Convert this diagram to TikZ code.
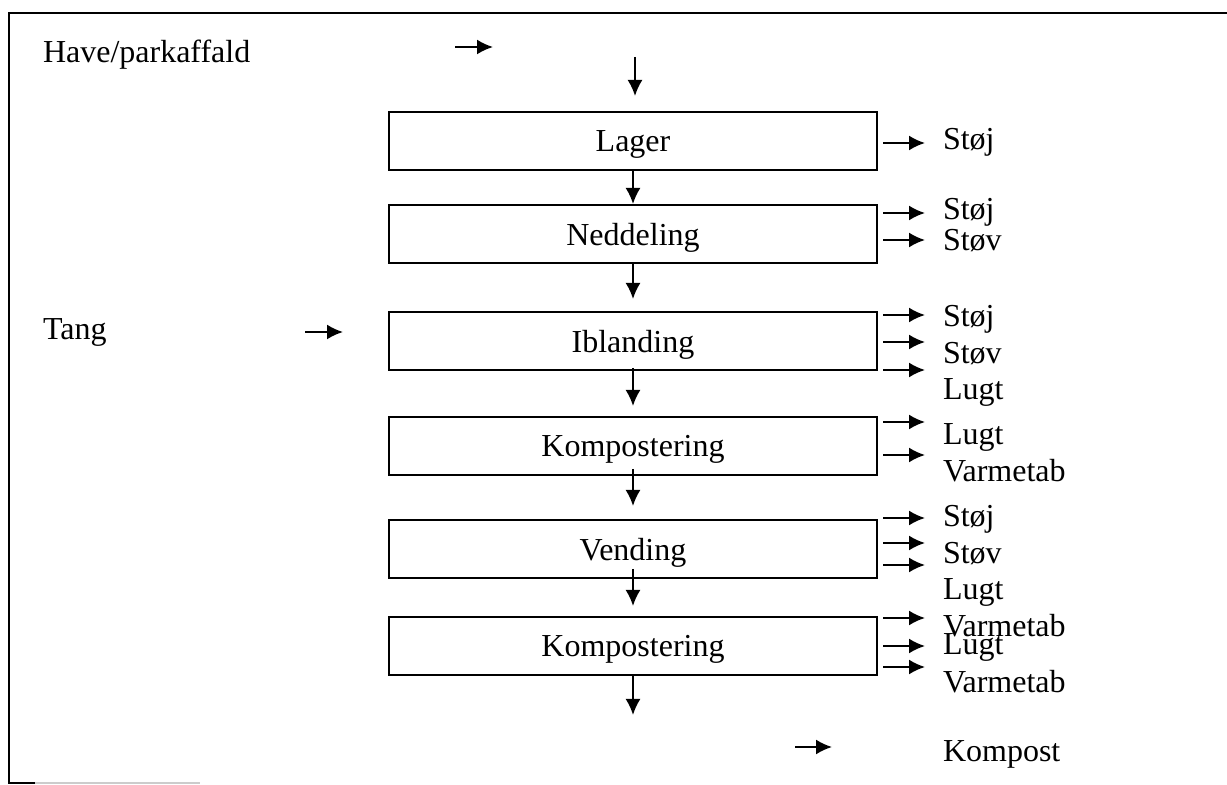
\documentclass[tikz,border=0pt]{standalone}
\usepackage{fontspec}
\setmainfont{Liberation Serif}
\usetikzlibrary{arrows.meta}

\begin{document}
\begin{tikzpicture}[x=0.5pt, y=-0.5pt, line width=1pt,
    font=\fontsize{16}{19}\selectfont,
    proc/.style={draw, minimum width=244pt, minimum height=29pt, inner sep=0pt, text depth=0pt},
    flow/.style={-{Latex[length=8pt,width=7.5pt]}},
    lbl/.style={anchor=base west, inner sep=0pt}]
    \useasboundingbox (0,0) rectangle (1227,785);

    % ramme
    \draw (1227,13) -- (9,13) -- (9,783) -- (35,783);
    \draw[gray!40] (35,783) -- (200,783);

    % input
    \node[lbl] (have) at (42,63) {Have/parkaffald};
    \node[lbl] (tang) at (42,340) {Tang};
    \coordinate (haveA) at (455,47);
    \coordinate (haveB) at (493,47);
    \coordinate (tangA) at (305,332);
    \coordinate (tangB) at (343,332);
    \draw[flow] (haveA) -- (haveB);
    \draw[flow] (tangA) -- (tangB);

    % processer
    \node[proc] (lager) at (633,141) {Lager};
    \node[proc] (nedd)  at (633,234) {Neddeling};
    \node[proc] (ibl)   at (633,341) {Iblanding};
    \node[proc] (komp)  at (633,446) {Kompostering};
    \node[proc] (vend)  at (633,549) {Vending};
    \node[proc] (komp2) at (633,646) {Kompostering};

    \coordinate (intop) at (635,57);
    \coordinate (ud) at (633,715);
    \draw[flow] (intop) -- ([yshift=7.5pt]intop |- lager.north);
    \draw[flow] (lager) -- (nedd);
    \draw[flow] (nedd) -- ([yshift=6pt]ibl.north);
    \draw[flow] ([yshift=1.5pt]ibl.south) -- ([yshift=5pt]komp.north);
    \draw[flow] ([yshift=3.5pt]komp.south) -- ([yshift=6.5pt]vend.north);
    \draw[flow] ([yshift=5pt]vend.south) -- ([yshift=5pt]komp2.north);
    \draw[flow] (komp2) -- (ud);

    % output
    \foreach \b/\y in {lager/143, nedd/213, nedd/240, ibl/315, ibl/342, ibl/370,
        komp/422, komp/455, vend/518, vend/543, vend/565,
        komp2/618, komp2/646, komp2/667}
        \draw[flow] (\b.east |- 0,\y) ++(2.5pt,0) -- ++(42,0);

    \foreach \y/\t in {150/Støj, 220/Støj, 251/Støv, 327/Støj, 364/Støv, 400/Lugt,
        445/Lugt, 482/Varmetab, 527/Støj, 564/Støv, 600/Lugt,
        637/Varmetab, 655/Lugt, 693/Varmetab}
        \node[lbl] (out\y) at (942,\y) {\t};

    \coordinate (kompA) at (795,747);
    \coordinate (kompB) at (832,747);
    \draw[flow] (kompA) -- (kompB);
    \node[lbl] (kompost) at (942,762) {Kompost};

\end{tikzpicture}
\end{document}
